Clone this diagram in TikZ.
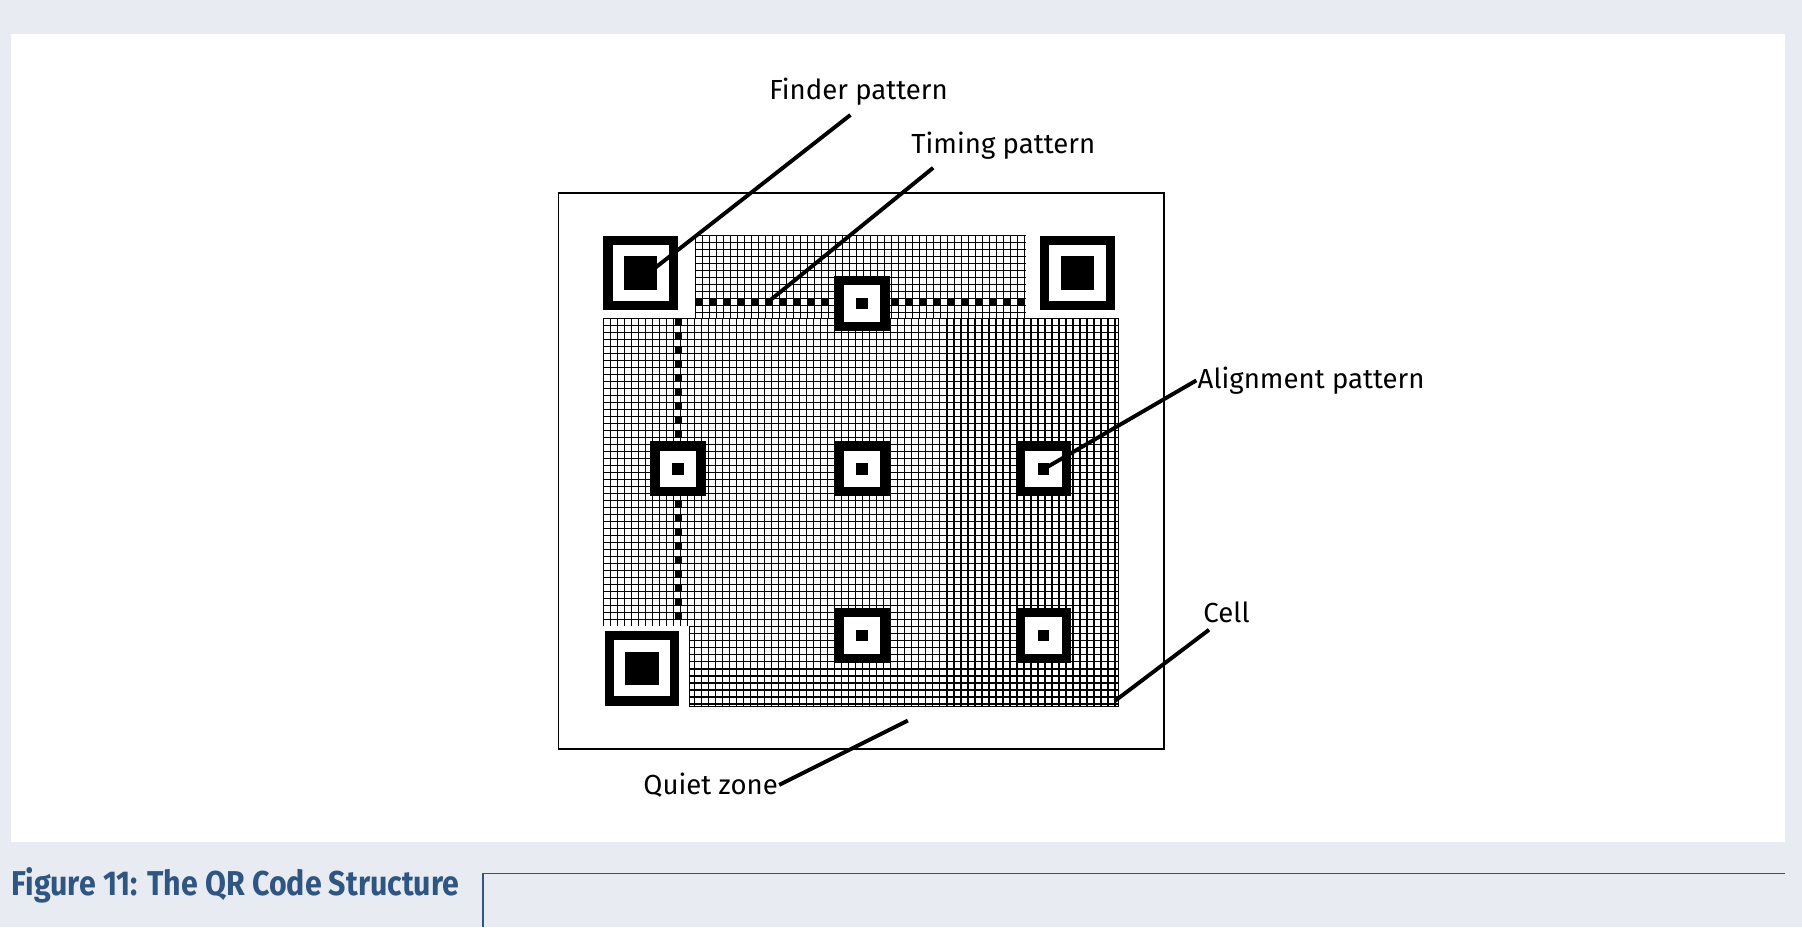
\documentclass[tikz,border=0pt]{standalone}
\usepackage{fontspec}
\setmainfont{Fira Sans}
\newfontfamily\capfont{Fira Sans}[FakeStretch=0.88]
\usepackage{xcolor}
\definecolor{pagebg}{RGB}{232,236,242}
\definecolor{capblue}{RGB}{47,85,131}
\tikzset{
  finder/.pic={\fill (-32.5,-32.5) rectangle (32.5,32.5);
    \fill[white] (-24.5,-24.5) rectangle (24.5,24.5);
    \fill (-14.5,-14.5) rectangle (14.5,14.5);},
  alignpat/.pic={\fill (-24,-24) rectangle (24,24);
    \fill[white] (-16,-16) rectangle (16,16);
    \fill (-5,-5) rectangle (5,5);},
  lbl/.style={font=\fontsize{24}{28}\selectfont, inner sep=1pt},
  lead/.style={line width=3.4pt},
  modgrid/.style={line width=1.1pt}
}
\begin{document}
\begin{tikzpicture}[x=1pt,y=-1pt]
    \useasboundingbox (0,0) rectangle (1568,807);
    \fill[pagebg] (0,0) rectangle (1568,807);
    \fill[white] (10,30) rectangle (1553,733);
    
    %quiet zone border
    \draw[line width=1.6pt] (486,168) rectangle (1013,652);
    
    %cell grids
    \begin{scope}[shift={(525,205)}]
    \foreach \i in {0,...,47} \draw[modgrid] (80+\i*6.1,0) -- (80+\i*6.1,72);
    \foreach \j in {0,...,11} \draw[modgrid] (80,\j*6.1) -- (368,\j*6.1);
    \foreach \i in {0,...,73} \draw[modgrid] (\i*6.1,72) -- (\i*6.1,410);
    \foreach \j in {0,...,55} \draw[modgrid] (0,72+\j*6.1) -- (448,72+\j*6.1);
    \fill[white] (-1,340) rectangle (75,411);
    \draw[line width=1.1pt] (75,340) -- (75,410) -- (448,410) -- (448,72);
    \end{scope}
    
    %timing patterns
    \draw[line width=6pt, dash pattern=on 6.1pt off 6.1pt] (605,263) -- (893,263);
    \draw[line width=6pt, dash pattern=on 6.1pt off 6.1pt] (590,277) -- (590,545);
    
    %finder patterns
    \pic at (557.5,237.5) {finder};
    \pic at (937.5,237.5) {finder};
    \pic at (558.5,581.5) {finder};
    
    %alignment patterns
    \foreach \x/\y in {750/264, 590/408, 750/408, 908/408, 750/553, 908/553}
      \pic at (\x,\y) {alignpat};
    
    % labels
    \node[lbl] (finder) at (747,80) {Finder pattern};
    \node[lbl] (timing) at (873,127) {Timing pattern};
    \node[lbl, anchor=west] (alignment) at (1041,331) {Alignment pattern};
    \node[lbl, anchor=west] (cell) at (1046,533) {Cell};
    \node[lbl, anchor=east] (quiet) at (678,683) {Quiet zone};
    \coordinate (finderEnd) at (565,237);
    \coordinate (timingEnd) at (668,263);
    \coordinate (alignEnd) at (905,410);
    \coordinate (cellEnd) at (970,610);
    \coordinate (quietEnd) at (790,627);
    \draw[lead] (740,100) -- (finderEnd);
    \draw[lead] (812,146) -- (timingEnd);
    \draw[lead] (alignment.west) -- (alignEnd);
    \draw[lead] (1052,548) -- (cellEnd);
    \draw[lead] (quiet.east) -- (quietEnd);
    
    % caption
    \node[anchor=west, text=capblue, font=\capfont\fontsize{30}{34}\selectfont\bfseries, inner sep=0pt] (caption) at (10,770) {Figure 11: The QR Code Structure};
    \draw[capblue, line width=1.5pt] (420,807) -- (420,760) -- (1553,760);
\end{tikzpicture}
\end{document}
